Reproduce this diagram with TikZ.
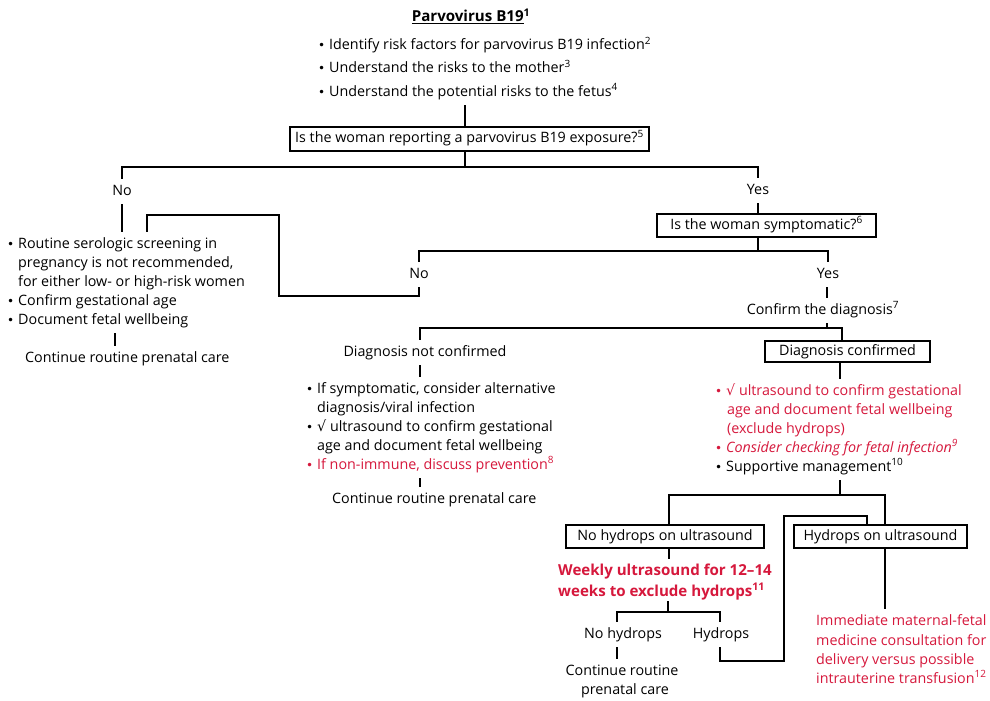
\documentclass[tikz,border=0pt]{standalone}
\usepackage{fontspec}
\setmainfont{Open Sans}
\newfontfamily\symfont{DejaVu Sans}
\definecolor{alert}{RGB}{214,24,60}
\newcommand{\mainsize}{\fontsize{14.3}{17}\selectfont}
\newcommand{\boldsize}{\fontsize{15.1}{18}\selectfont\bfseries}
\newcommand{\bul}{\makebox[11pt][l]{{\symfont\fontsize{12}{14}\selectfont •}}}
\newcommand{\chk}{{\symfont √}}
\begin{document}
\begin{tikzpicture}[x=1pt,y=-1pt,
  txtbase/.style={inner xsep=0pt, inner ysep=6pt, text height=10pt, text depth=3pt, font=\mainsize},
  lab/.style={txtbase, anchor=base},
  ln/.style={txtbase, anchor=base west},
  hl/.style={text=alert},
  qbox/.style={draw=black, line width=1.1pt, inner sep=0pt, text height=10pt, text depth=3pt, font=\mainsize},
  wire/.style={line width=1.1pt, draw=black}]
\fill[white] (0,0) rectangle (990,701);
\useasboundingbox (0,0) rectangle (990,701);

% heading and general points
\node[lab, font=\boldsize] (title) at (471,22) {\underline{Parvovirus B19}\textsuperscript{1}};
\node[ln] (t1) at (318,50) {\bul Identify risk factors for parvovirus B19 infection\textsuperscript{2}};
\node[ln] (t2) at (318,73) {\bul Understand the risks to the mother\textsuperscript{3}};
\node[ln] (t3) at (318,96) {\bul Understand the potential risks to the fetus\textsuperscript{4}};

% first question
\node[qbox, minimum width=359pt, minimum height=24pt] (q1) at (469.5,139) {Is the woman reporting a parvovirus B19 exposure?\textsuperscript{5}};
\node[lab] (n1) at (122,195) {No};
\node[lab] (y1) at (758,194) {Yes};

% no exposure branch
\node[ln] (lb1) at (7,248) {\bul Routine serologic screening in};
\node[ln] (lb2) at (18,267) {pregnancy is not recommended,};
\node[ln] (lb3) at (18,286) {for either low- or high-risk women};
\node[ln] (lb4) at (7,305) {\bul Confirm gestational age};
\node[ln] (lb5) at (7,324) {\bul Document fetal wellbeing};
\node[ln] (lcont) at (25,362) {Continue routine prenatal care};

% second question
\node[qbox, minimum width=219pt, minimum height=23pt] (q2) at (766.5,225.5) {Is the woman symptomatic?\textsuperscript{6}};
\node[lab] (n2) at (419,278) {No};
\node[lab] (y2) at (828,278) {Yes};
\node[lab] (cd) at (823,314) {Confirm the diagnosis\textsuperscript{7}};

% diagnosis not confirmed
\node[lab] (dnc) at (425,356) {Diagnosis not confirmed};
\node[ln] (mb1) at (306,393) {\bul If symptomatic, consider alternative};
\node[ln] (mb2) at (317,412) {diagnosis/viral infection};
\node[ln] (mb3) at (306,431) {\bul \chk{} ultrasound to confirm gestational};
\node[ln] (mb4) at (317,450) {age and document fetal wellbeing};
\node[ln, hl] (mb5) at (306,469) {\bul If non-immune, discuss prevention\textsuperscript{8}};
\node[ln] (mcont) at (332,503) {Continue routine prenatal care};

% diagnosis confirmed
\node[qbox, minimum width=165pt, minimum height=21pt] (q3) at (847.5,351.5) {Diagnosis confirmed};
\node[ln, hl] (rb1) at (715,395) {\bul \chk{} ultrasound to confirm gestational};
\node[ln, hl] (rb2) at (727,414) {age and document fetal wellbeing};
\node[ln, hl] (rb3) at (727,433) {(exclude hydrops)};
\node[ln, hl] (rb4) at (715,452) {\bul \textit{Consider checking for fetal infection\textsuperscript{9}}};
\node[ln] (rb5) at (715,471) {\bul Supportive management\textsuperscript{10}};

% ultrasound findings
\node[qbox, minimum width=198pt, minimum height=23pt] (q4) at (665,536.5) {No hydrops on ultrasound};
\node[qbox, minimum width=173pt, minimum height=23pt] (q5) at (880.5,536.5) {Hydrops on ultrasound};
\node[ln, hl, font=\boldsize] (w1) at (558,575) {Weekly ultrasound for 12--14};
\node[ln, hl, font=\boldsize] (w2) at (558,596) {weeks to exclude hydrops\textsuperscript{11}};
\node[lab] (nh) at (623,638) {No hydrops};
\node[lab] (hy) at (721,638) {Hydrops};
\node[lab] (c1) at (622,675) {Continue routine};
\node[lab] (c2) at (625,694) {prenatal care};
\node[ln, hl] (i1) at (816,625) {Immediate maternal-fetal};
\node[ln, hl] (i2) at (816,645) {medicine consultation for};
\node[ln, hl] (i3) at (816,664) {delivery versus possible};
\node[ln, hl] (i4) at (816,683) {intrauterine transfusion\textsuperscript{12}};

% junction points
\coordinate (jA) at (465,167);
\coordinate (jB) at (758,251);
\coordinate (k1) at (279,296);
\coordinate (k2) at (147,215);
\coordinate (jL) at (115,340);
\coordinate (jC) at (827,328);
\coordinate (jD) at (420,328);
\coordinate (jE) at (842,328);
\coordinate (jF) at (840,495);
\coordinate (jG) at (669,495);
\coordinate (jH) at (885,495);
\coordinate (jI) at (668,612);
\coordinate (jJ) at (617,612);
\coordinate (jK) at (720,612);
\coordinate (m1) at (784,661);
\coordinate (m2) at (867,516);

% connectors
\draw[wire] (jA |- t3.south) -- (jA |- q1.north);
\draw[wire] (q1.south -| jA) -- (jA);
\draw[wire] (n1.north) |- (jA) -| (y1.north);
\draw[wire] (n1.south) -- (n1.south |- lb1.north);
\draw[wire] (jL |- lb5.south) -- (jL |- lcont.north);
\draw[wire] (y1.south) -- (y1.south |- q2.north);
\draw[wire] (q2.south -| jB) -- (jB);
\draw[wire] (n2.north) |- (jB) -| (y2.north);
\draw[wire] (n2.south) |- (k1) |- (k2) -- (k2 |- lb1.north);
\draw[wire] (y2.south -| jC) -- (jC |- cd.north);
\draw[wire] (cd.south -| jC) -- (jC);
\draw[wire] (jD |- dnc.north) -- (jD) -- (jE) -- (jE |- q3.north);
\draw[wire] (jD |- dnc.south) -- (jD |- mb1.north);
\draw[wire] (jD |- mb5.south) -- (jD |- mcont.north);
\draw[wire] (jF |- q3.south) -- (jF |- rb1.north);
\draw[wire] (jF |- rb5.south) -- (jF);
\draw[wire] (jG |- q4.north) -- (jG) -- (jH) -- (jH |- q5.north);
\draw[wire] (jG |- q4.south) -- (jG |- w1.north);
\draw[wire] ([yshift=4pt]jI |- w2.south) -- (jI);
\draw[wire] (jJ |- nh.north) -- (jJ) -- (jK) -- (jK |- hy.north);
\draw[wire] (jJ |- nh.south) -- (jJ |- c1.north);
\draw[wire] (jK |- hy.south) |- (m1) |- (m2) -- (m2 |- q5.north);
\draw[wire] (jH |- q5.south) -- (jH |- i1.north);
\end{tikzpicture}
\end{document}
